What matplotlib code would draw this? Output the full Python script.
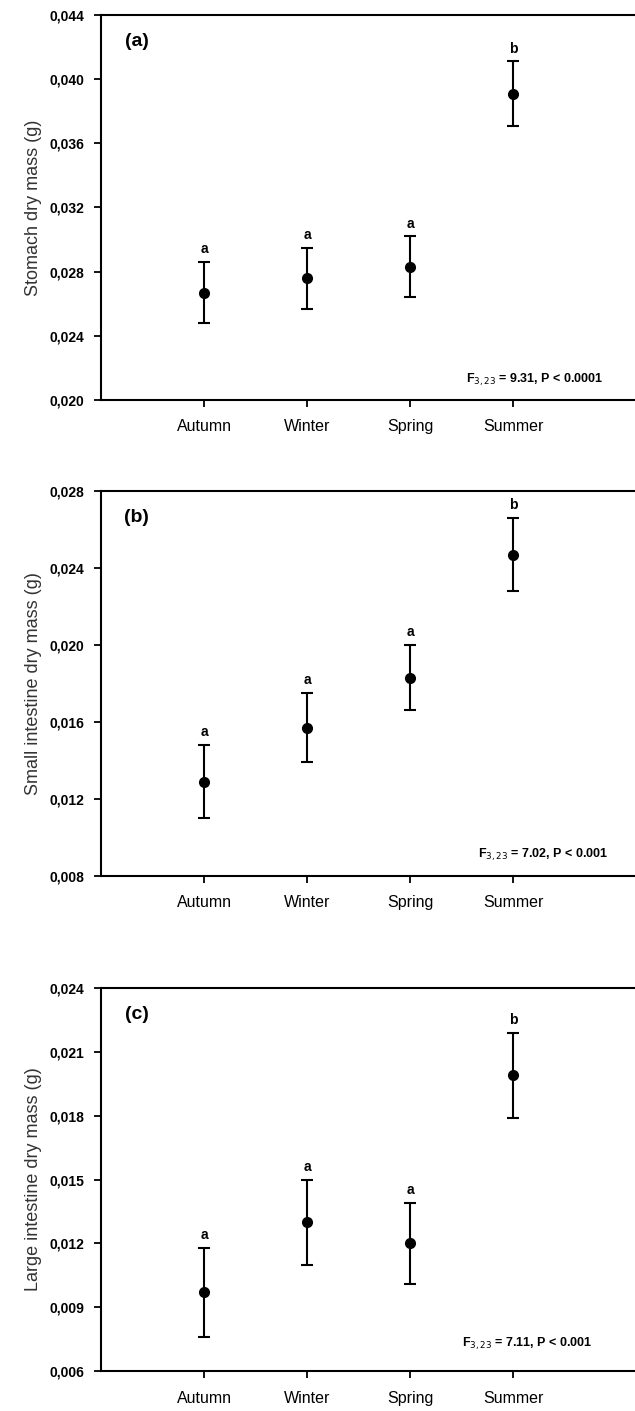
import numpy as np
import matplotlib
matplotlib.use("Agg")
import matplotlib.pyplot as plt
from matplotlib.ticker import FuncFormatter

plt.rcParams["font.family"] = ["Liberation Sans", "DejaVu Sans"]

seasons = ["Autumn", "Winter", "Spring", "Summer"]

# (a) stomach
stomach_mean = [0.0267, 0.0276, 0.0283, 0.0391]
stomach_err = [0.0019, 0.0019, 0.0019, 0.0020]
stomach_groups = ["a", "a", "a", "b"]

# (b) small intestine
small_mean = [0.0129, 0.0157, 0.0183, 0.0247]
small_err = [0.0019, 0.0018, 0.0017, 0.0019]
small_groups = ["a", "a", "a", "b"]

# (c) large intestine
large_mean = [0.0097, 0.0130, 0.0120, 0.0199]
large_err = [0.0021, 0.0020, 0.0019, 0.0020]
large_groups = ["a", "a", "a", "b"]

panels = [
    ("(a)", "Stomach dry mass (g)", stomach_mean, stomach_err, stomach_groups,
     (0.020, 0.044), np.arange(0.020, 0.0441, 0.004),
     "F$_{3,23}$ = 9.31, P < 0.0001", 0.94, 0.052),
    ("(b)", "Small intestine dry mass (g)", small_mean, small_err, small_groups,
     (0.008, 0.028), np.arange(0.008, 0.0281, 0.004),
     "F$_{3,23}$ = 7.02, P < 0.001", 0.95, 0.055),
    ("(c)", "Large intestine dry mass (g)", large_mean, large_err, large_groups,
     (0.006, 0.024), np.arange(0.006, 0.0241, 0.003),
     "F$_{3,23}$ = 7.11, P < 0.001", 0.92, 0.07),
]

# axes boxes in figure fractions (left, bottom, width, height)
boxes = [
    (0.159, 0.7165, 0.841, 0.2729),
    (0.159, 0.3792, 0.841, 0.2728),
    (0.159, 0.0283, 0.841, 0.2715),
]

fig = plt.figure(figsize=(6.35, 14.11), dpi=100)

for box, (tag, ylab, mean, err, groups, ylim, yticks, stat, sx, sy) in zip(boxes, panels):
    ax = fig.add_axes(box)
    x = np.arange(1, len(seasons) + 1)
    ax.errorbar(x, mean, yerr=err, fmt="o", color="black", ecolor="black",
                markersize=7, elinewidth=1.5, capsize=4, capthick=1.5)
    span = ylim[1] - ylim[0]
    for xi, m, e, g in zip(x, mean, err, groups):
        ax.text(xi, m + e + span * 0.015, g, ha="center", va="bottom",
                fontsize=10, fontweight="bold")
    ax.set_xlim(0, 5.18)
    ax.set_ylim(*ylim)
    ax.set_yticks(yticks)
    ax.yaxis.set_major_formatter(FuncFormatter(lambda v, p: f"{v:.3f}".replace(".", ",")))
    ax.set_xticks(x)
    ax.set_xticklabels(seasons, fontsize=11.5)
    for lbl in ax.get_yticklabels():
        lbl.set_fontsize(10)
        lbl.set_fontweight("bold")
    ax.set_ylabel(ylab, fontsize=13, labelpad=5, color="#333333")
    ax.tick_params(direction="out", length=5, width=1.3)
    ax.tick_params(axis="x", pad=9)
    ax.tick_params(axis="y", pad=7)
    ax.spines["right"].set_visible(False)
    for s in ["left", "bottom", "top"]:
        ax.spines[s].set_linewidth(1.5)
    ax.text(0.067, 0.93, tag, transform=ax.transAxes, fontsize=14,
            fontweight="bold", ha="center", va="center")
    ax.text(sx, sy, stat, transform=ax.transAxes, fontsize=9,
            fontweight="bold", ha="right", va="center")

fig.savefig("out.png", dpi=100)
